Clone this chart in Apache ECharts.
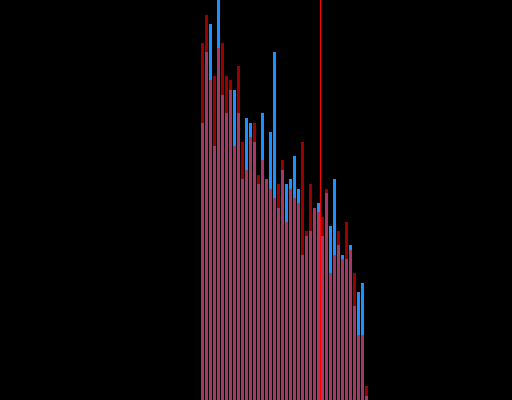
<!DOCTYPE html>
<html>
<head>
<meta charset="utf-8">
<script src="https://cdn.jsdelivr.net/npm/echarts@6/dist/echarts.min.js"></script>
<style>
  html, body { margin: 0; padding: 0; background: #000; }
  #chart { width: 512px; height: 400px; }
</style>
</head>
<body>
<div id="chart"></div>
<script>
// histogram bins (hidden axis)
const bins = ['0','1','2','3','4','5','6','7','8','9','10','11','12','13','14','15','16','17','18','19','20',
  '21','22','23','24','25','26','27','28','29','30','31','32','33','34','35','36','37','38','39','40','41']

// counts per bin
const blueCounts = [277, 348, 376, 254, 420, 305, 287, 310, 310, 287, 221, 282, 277, 258, 216, 287, 221, 268, 348, 192, 230,
  216, 221, 244, 211, 145, 164, 169, 192, 197, 164, 207, 174, 221, 155, 145, 141, 155, 94, 108, 117, 4]
const redCounts = [357, 385, 320, 324, 352, 357, 324, 320, 254, 334, 258, 230, 263, 277, 225, 240, 221, 211, 202, 216, 240,
  178, 211, 202, 197, 258, 169, 216, 192, 188, 183, 211, 127, 145, 169, 141, 178, 150, 127, 65, 65, 14]

// marker position, as a bin edge
const markerEdge = 30

const chart = echarts.init(document.getElementById('chart'))

chart.setOption({
  backgroundColor: '#000',
  animation: false,
  grid: { left: 200.5, width: 168, top: 0, bottom: 0 },
  xAxis: [
    { type: 'category', data: bins, show: false },
    { type: 'value', min: 0, max: bins.length, show: false },
  ],
  yAxis: { type: 'value', min: 0, max: 400, show: false },
  series: [
    {
      type: 'bar',
      barWidth: 3,
      barGap: '-100%',
      itemStyle: { color: '#1e90ff' },
      data: blueCounts,
    },
    {
      type: 'bar',
      barWidth: 3,
      barGap: '-100%',
      itemStyle: { color: '#ff0000', opacity: 0.6 },
      data: redCounts,
    },
    {
      type: 'line',
      xAxisIndex: 1,
      data: [],
      markLine: {
        silent: true,
        symbol: 'none',
        label: { show: false },
        lineStyle: { color: '#ff0000', type: 'solid', width: 1 },
        data: [{ xAxis: markerEdge }],
      },
    },
  ],
})
</script>
</body>
</html>
